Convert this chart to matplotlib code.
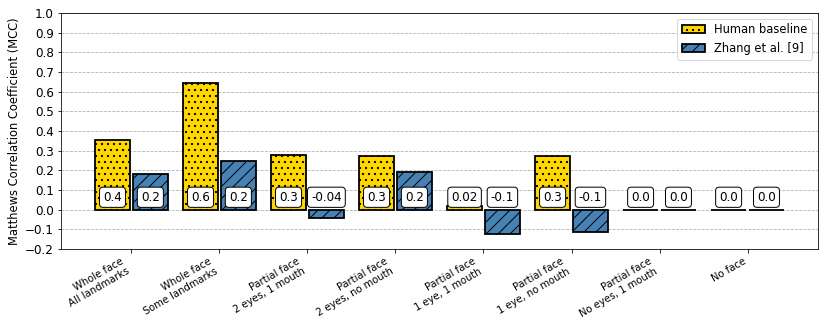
import matplotlib
matplotlib.use("Agg")
import matplotlib.pyplot as plt
import numpy as np

categories = ["Whole face\nAll landmarks", "Whole face\nSome landmarks",
              "Partial face\n2 eyes, 1 mouth", "Partial face\n2 eyes, no mouth",
              "Partial face\n1 eye, 1 mouth", "Partial face\n1 eye, no mouth",
              "Partial face\nNo eyes, 1 mouth", "No face"]
human = [0.355, 0.645, 0.278, 0.275, 0.018, 0.275, 0.0, 0.0]
zhang = [0.18, 0.245, -0.04, 0.19, -0.125, -0.115, 0.0, 0.0]
human_labels = ["0.4", "0.6", "0.3", "0.3", "0.02", "0.3", "0.0", "0.0"]
zhang_labels = ["0.2", "0.2", "-0.04", "0.2", "-0.1", "-0.1", "0.0", "0.0"]

DPI = 72
plt.rcParams['hatch.linewidth'] = 1.0
fig = plt.figure(figsize=(830 / DPI, 324 / DPI), dpi=DPI)
ax = fig.add_axes([0.0735, 0.2315, 0.912, 0.7285])

x = np.arange(len(categories))
w = 0.4
off = 0.215
ax.bar(x - off, human, w, color="#FFD700", edgecolor="black", linewidth=1.8,
       hatch="..", label="Human baseline", zorder=3)
ax.bar(x + off, zhang, w, color="#4682B4", edgecolor="black", linewidth=1.8,
       hatch="//", label="Zhang et al. [9]", zorder=3)

bbox = dict(boxstyle="round,pad=0.3", fc="white", ec="black", lw=1)
for xi, lab in zip(x - off, human_labels):
    ax.text(xi, 0.063, lab, ha="center", va="center", fontsize=12, bbox=bbox, zorder=5)
for xi, lab in zip(x + off, zhang_labels):
    ax.text(xi, 0.063, lab, ha="center", va="center", fontsize=12, bbox=bbox, zorder=5)

ax.set_xlim(-0.8, 7.8)
ax.set_ylim(-0.2, 1.0)
yt = np.round(np.arange(-0.2, 1.01, 0.1), 1)
ax.set_yticks(yt)
ax.set_yticklabels([f"{v:.1f}".replace("-", "\u2212") for v in yt], fontsize=12)
ax.set_xticks(x)
ax.set_xticklabels(categories, rotation=30, ha="right", fontsize=10)
ax.set_ylabel("Matthews Correlation Coefficient (MCC)", fontsize=11.5)
ax.yaxis.grid(True, linestyle="--", color="#b0b0b0", zorder=0)
ax.set_axisbelow(True)
ax.legend(loc="upper right", fontsize=11.5)

fig.savefig("out.png", dpi=DPI)
